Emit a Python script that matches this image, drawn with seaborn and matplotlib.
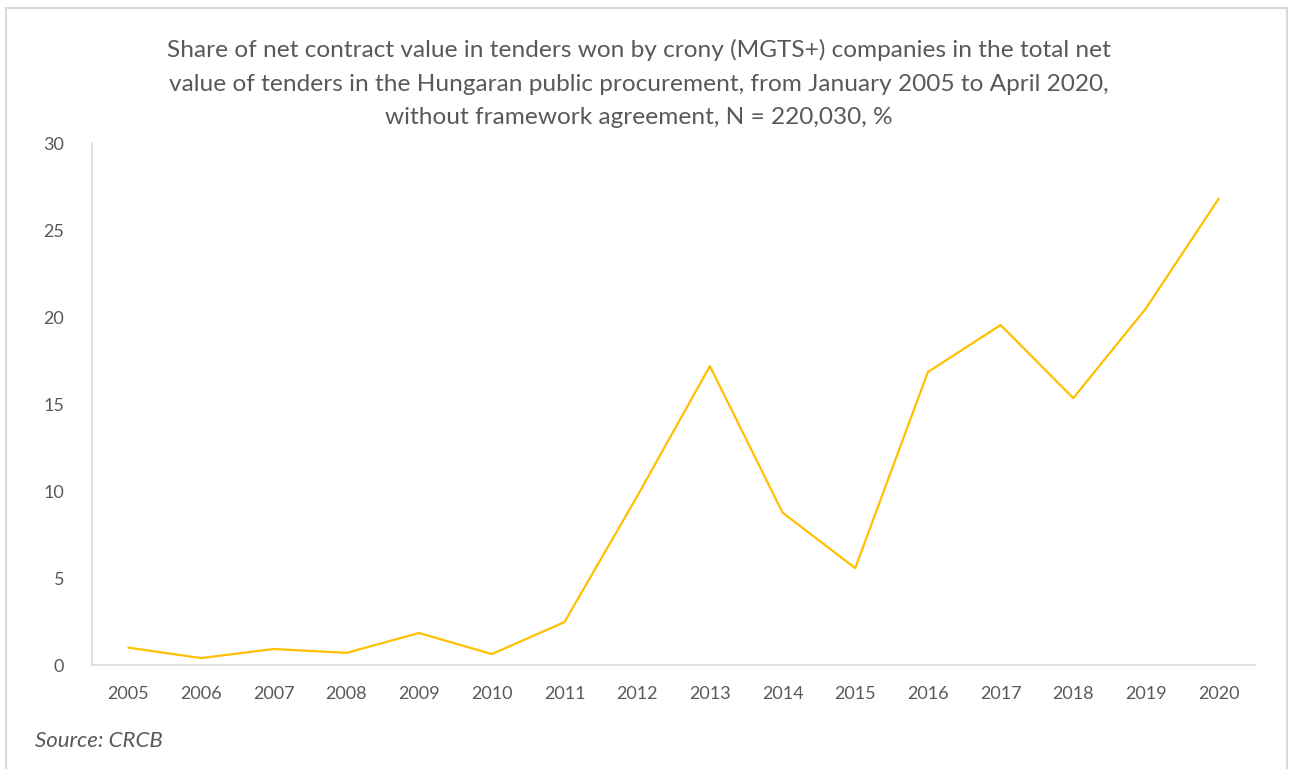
import numpy as np
import pandas as pd
import matplotlib
matplotlib.use("Agg")
import matplotlib.pyplot as plt
import seaborn as sns

years = ["2005", "2006", "2007", "2008", "2009", "2010", "2011", "2012",
         "2013", "2014", "2015", "2016", "2017", "2018", "2019", "2020"]
share = [1.0, 0.4, 0.92, 0.7, 1.84, 0.63, 2.47, 9.7,
         17.18, 8.76, 5.57, 16.84, 19.54, 15.34, 20.5, 26.8]
yticks = [0, 5, 10, 15, 20, 25, 30]

title = ("Share of net contract value in tenders won by crony (MGTS+) companies in the total net\n"
         "value of tenders in the Hungaran public procurement, from January 2005 to April 2020,\n"
         "without framework agreement, N = 220,030, %")

sns.set_theme(style="white")
plt.rcParams["font.family"] = ["Lato", "DejaVu Sans"]

df = pd.DataFrame({"year": years, "share": share})
df["pos"] = np.arange(len(years))

fig = plt.figure(figsize=(12.93, 7.69), dpi=100)
ax = fig.add_axes([0.0712, 0.1352, 0.8994, 0.6788])

sns.lineplot(data=df, x="pos", y="share", ax=ax, color="#FFC000", linewidth=1.6)

ax.set_xlim(-0.5, len(years) - 0.5)
ax.set_ylim(0, 30)
ax.set_xticks(df["pos"])
ax.set_xticklabels(years)
ax.set_yticks(yticks)
ax.set_xlabel("")
ax.set_ylabel("")
ax.tick_params(axis="both", length=0, labelsize=13, labelcolor="#595959")
ax.tick_params(axis="y", pad=20)
ax.tick_params(axis="x", pad=15)

for side in ["top", "right"]:
    ax.spines[side].set_visible(False)
for side in ["left", "bottom"]:
    ax.spines[side].set_color("#D9D9D9")
    ax.spines[side].set_linewidth(1.2)

fig.text(0.494, 0.949, title, ha="center", va="top", fontsize=17.6,
         color="#595959", linespacing=1.72)
fig.text(0.027, 0.037, "Source: CRCB", ha="left", va="center", fontsize=16,
         color="#595959", style="italic")

# outer frame
fig.add_artist(plt.Rectangle((0.005, -0.01), 0.99, 1.0, transform=fig.transFigure,
                             fill=False, edgecolor="#D9D9D9", linewidth=1.5))

fig.savefig("out.png", dpi=100)
